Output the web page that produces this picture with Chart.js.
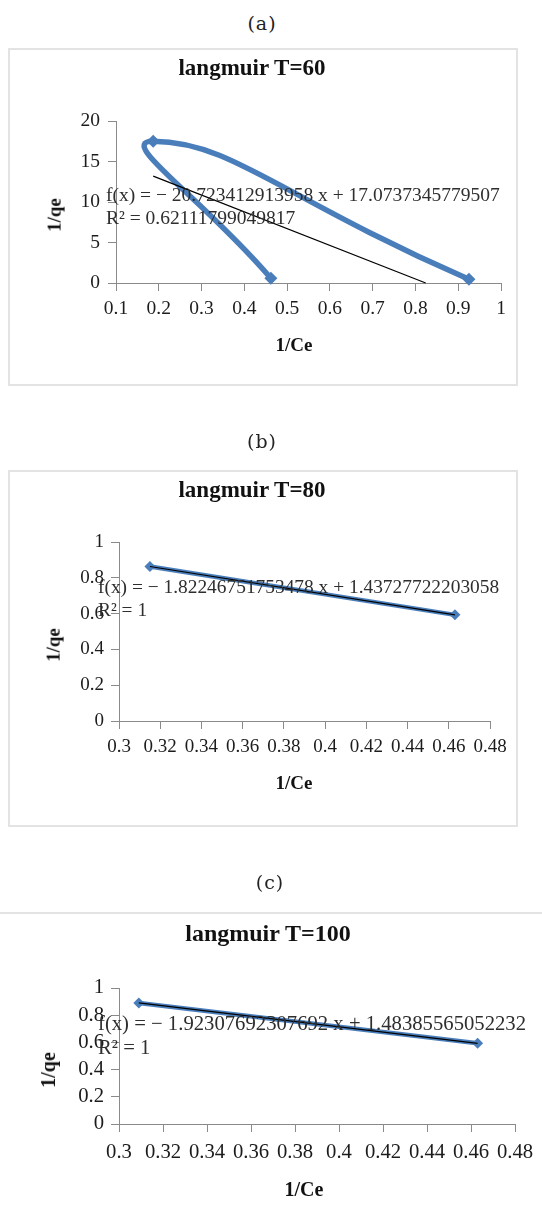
<!DOCTYPE html>
<html>
<head>
<meta charset="utf-8">
<script src="https://cdn.jsdelivr.net/npm/chart.js@4.4.0/dist/chart.umd.min.js"></script>
<style>
body { margin: 0; background: #fff; width: 542px; height: 1230px; position: relative; overflow: hidden; font-family: 'Liberation Serif', serif; color: #222; }
.box { position: absolute; border: 2px solid #e3e3e3; }
canvas { position: absolute; left: 0; }
.c { position: absolute; white-space: nowrap; transform: translate(-50%, -50%); line-height: 1.2; }
.l { position: absolute; white-space: nowrap; transform: translateY(-50%); line-height: 1.2; color: #2e2e2e; }
.b { font-weight: bold; color: #111; }
.rot { transform: translate(-50%, -50%) rotate(-90deg); }
.lab { font-family: 'DejaVu Serif', serif; font-size: 19px; letter-spacing: 1px; color: #222; }
</style>
</head>
<body>
<div class="c lab" style="left:262px;top:23px">(a)</div>
<div class="box" style="left:8px;top:48px;width:506px;height:334px"></div>
<canvas id="chartA" width="542" height="336" style="top:49px"></canvas>
<div class="c b" style="left:252px;top:68px;font-size:23px">langmuir T=60</div>
<div class="c b" style="left:294px;top:345px;font-size:19px">1/Ce</div>
<div class="c b rot" style="left:55px;top:215px;font-size:19px">1/qe</div>
<div class="l" style="left:106px;top:195px;font-size:19.5px">f(x) = − 20.723412913958 x + 17.0737345779507</div>
<div class="l" style="left:106px;top:218px;font-size:19.5px">R² = 0.62111799049817</div>

<div class="c lab" style="left:262px;top:441px">(b)</div>
<div class="box" style="left:8px;top:470px;width:506px;height:353px"></div>
<canvas id="chartB" width="542" height="354" style="top:472px"></canvas>
<div class="c b" style="left:252px;top:490px;font-size:23px">langmuir T=80</div>
<div class="c b" style="left:294px;top:783px;font-size:19px">1/Ce</div>
<div class="c b rot" style="left:54px;top:645px;font-size:19px">1/qe</div>
<div class="l" style="left:98px;top:587px;font-size:19.4px">f(x) = − 1.82246751753478 x + 1.43727722203058</div>
<div class="l" style="left:98px;top:610px;font-size:19.4px">R² = 1</div>

<div class="c lab" style="left:270px;top:882px">(c)</div>
<div class="box" style="left:-2px;top:912px;width:546px;height:330px;border-bottom:none"></div>
<canvas id="chartC" width="542" height="316" style="top:914px"></canvas>
<div class="c b" style="left:268px;top:933px;font-size:24px">langmuir T=100</div>
<div class="c b" style="left:304px;top:1189px;font-size:20px">1/Ce</div>
<div class="c b rot" style="left:48px;top:1070px;font-size:20px">1/qe</div>
<div class="l" style="left:98px;top:1023px;font-size:20.7px">f(x) = − 1.92307692307692 x + 1.48385565052232</div>
<div class="l" style="left:98px;top:1047px;font-size:20.7px">R² = 1</div>

<script>
// values
const xA = [0.462, 0.187, 0.925]
const yA = [0.58, 17.5, 0.46]
const trendXA = [0.187, 0.824]
const trendYA = [13.2, 0]

const xB = [0.315, 0.463]
const yB = [0.863, 0.593]

const xC = [0.309, 0.463]
const yC = [0.890, 0.593]

const xTicksA = [0.1, 0.2, 0.3, 0.4, 0.5, 0.6, 0.7, 0.8, 0.9, 1]
const yTicksA = [0, 5, 10, 15, 20]
const xTicksBC = [0.3, 0.32, 0.34, 0.36, 0.38, 0.4, 0.42, 0.44, 0.46, 0.48]
const yTicksBC = [0, 0.2, 0.4, 0.6, 0.8, 1]

const BLUE = '#4a7ebb'
const AXIS = '#8a8a8a'

function pts(xs, ys) {
    return xs.map((x, i) => ({ x: x, y: ys[i] }))
}

function axis(ticks, fit, size, pad) {
    return {
        type: 'linear',
        min: ticks[0],
        max: ticks[ticks.length - 1],
        afterBuildTicks: s => { s.ticks = ticks.map(v => ({ value: v })) },
        afterFit: fit,
        ticks: {
            autoSkip: false,
            maxRotation: 0,
            padding: pad,
            color: '#1c1c1c',
            font: { family: 'Liberation Serif', size: size },
            callback: v => String(v)
        },
        grid: { drawOnChartArea: false, drawTicks: true, tickLength: 8, color: AXIS },
        border: { display: true, color: AXIS, width: 1 }
    }
}

function makeChart(id, p) {
    new Chart(document.getElementById(id), {
        type: 'line',
        data: {
            datasets: [{
                data: pts(p.tx, p.ty),
                borderColor: '#000',
                borderWidth: 1.2,
                pointRadius: 0,
                tension: 0,
                order: 0,
                clip: false
            },
            {
                data: pts(p.x, p.y),
                borderColor: BLUE,
                borderWidth: p.lw,
                borderJoinStyle: 'round',
                borderCapStyle: 'round',
                tension: p.tension,
                pointStyle: 'rectRot',
                pointRadius: p.pr,
                pointBackgroundColor: BLUE,
                pointBorderWidth: 0,
                order: 1,
                clip: false
            }]
        },
        options: {
            responsive: false,
            animation: false,
            events: [],
            layout: { padding: { left: 0, right: p.right, top: p.top, bottom: 0 } },
            plugins: { legend: { display: false }, tooltip: { enabled: false } },
            scales: {
                x: axis(p.xt, s => { s.height = p.xh }, p.fs, p.xpad),
                y: axis(p.yt, s => { s.width = p.yw }, p.fs, p.ypad)
            }
        }
    })
}

makeChart('chartA', {
    x: xA, y: yA, tx: trendXA, ty: trendYA, xt: xTicksA, yt: yTicksA,
    lw: 5.5, pr: 6.5, tension: 0.6,
    right: 41, top: 72, xh: 102, yw: 116, fs: 19.5, xpad: 6, ypad: 8
})

makeChart('chartB', {
    x: xB, y: yB, tx: xB, ty: yB, xt: xTicksBC, yt: yTicksBC,
    lw: 4.5, pr: 5.5, tension: 0,
    right: 52, top: 70, xh: 105, yw: 119, fs: 19, xpad: 7, ypad: 7
})

makeChart('chartC', {
    x: xC, y: yC, tx: xC, ty: yC, xt: xTicksBC, yt: yTicksBC,
    lw: 4.5, pr: 5.5, tension: 0,
    right: 27, top: 74, xh: 106, yw: 119, fs: 20.7, xpad: 8, ypad: 7
})
</script>
</body>
</html>
